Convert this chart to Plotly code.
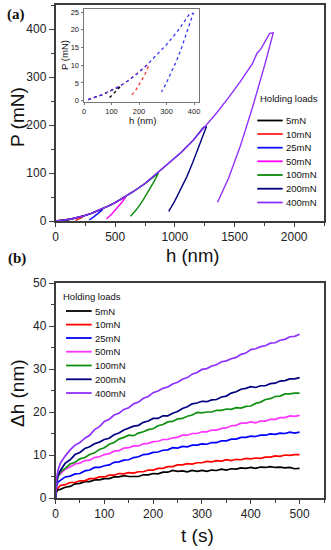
import plotly.graph_objects as go

W, H = 331, 550

# ---------------- data: (a) load-depth curves ----------------
labels = ["5mN", "10mN", "25mN", "50mN", "100mN", "200mN", "400mN"]
colors_a = ["#000000", "#ff2020", "#1010ff", "#ff00ff", "#0a8a0a", "#000080", "#9030ff"]
colors_b = ["#000000", "#ff0000", "#0000ff", "#ff33ff", "#109010", "#000080", "#9030ff"]

h_5 = [15, 40, 60, 80, 100, 115, 128, 133, 120, 110, 100, 92, 86]
P_5 = [0.3, 0.9, 1.5, 2.2, 2.9, 3.5, 4.0, 4.1, 3.0, 2.2, 1.4, 0.8, 0.3]

h_10 = [15, 40, 60, 80, 100, 130, 160, 190, 210, 225, 236, 220, 205, 190, 178, 166]
P_10 = [0.3, 0.9, 1.5, 2.2, 2.9, 4.1, 5.6, 7.4, 8.8, 9.8, 10.0, 7.2, 5.0, 3.2, 2.0, 1.0]

h_25 = [15, 40, 60, 80, 100, 130, 160, 190, 225, 260, 300, 340, 370, 385, 397,
        375, 355, 335, 315, 297, 282]
P_25 = [0.3, 0.9, 1.5, 2.2, 2.9, 4.1, 5.6, 7.4, 9.8, 12.5, 15.8, 19.6, 22.8, 24.6, 24.6,
        19.5, 15.0, 11.0, 7.5, 4.6, 2.5]

h_50 = [0, 50, 100, 130, 160, 200, 225, 300, 385, 450, 500, 575, 588,
        560, 530, 500, 470, 445, 427]
P_50 = [0, 0.8, 2.9, 4.1, 5.6, 8.0, 9.8, 15.8, 24.6, 32.0, 38.5, 49.5, 50.0,
        40.0, 31.0, 22.0, 14.0, 8.3, 4.8]

h_100 = [0, 50, 100, 130, 160, 200, 225, 300, 385, 450, 500, 575, 650, 750, 850, 862,
         830, 780, 730, 680, 650, 629]
P_100 = [0, 0.8, 2.9, 4.1, 5.6, 8.0, 9.8, 15.8, 24.6, 32.0, 38.5, 49.5, 61.0, 78.0, 99.0, 99.5,
         84.0, 62.0, 42.0, 24.4, 15.5, 9.8]

h_200 = [0, 50, 100, 130, 160, 200, 225, 300, 385, 450, 500, 575, 650, 750, 850, 950,
         1050, 1150, 1240, 1265, 1200, 1150, 1100, 1050, 1000, 970, 948]
P_200 = [0, 0.8, 2.9, 4.1, 5.6, 8.0, 9.8, 15.8, 24.6, 32.0, 38.5, 49.5, 61.0, 78.0, 99.0, 119.0,
         142.0, 167.0, 195.0, 197.0, 153.0, 122.0, 92.0, 66.0, 42.0, 29.0, 20.0]

h_400 = [0, 50, 100, 130, 160, 200, 225, 300, 385, 450, 500, 575, 650, 750, 850, 950,
         1050, 1150, 1250, 1350, 1450, 1550, 1650, 1690, 1720, 1795, 1825,
         1750, 1650, 1550, 1450, 1400, 1358]
P_400 = [0, 0.8, 2.9, 4.1, 5.6, 8.0, 9.8, 15.8, 24.6, 32.0, 38.5, 49.5, 61.0, 78.0, 99.0, 119.0,
         142.0, 167.0, 196.0, 225.0, 257.0, 291.0, 328.0, 350.0, 358.0, 391.0, 392.0,
         322.0, 236.0, 157.0, 89.0, 62.0, 39.0]

h_sets = [h_5, h_10, h_25, h_50, h_100, h_200, h_400]
P_sets = [P_5, P_10, P_25, P_50, P_100, P_200, P_400]

# ---------------- data: (b) creep displacement ----------------
t_s = [0, 2, 5, 10, 20, 30, 40, 50, 60, 70, 80, 90, 100, 110, 120, 130, 140, 150, 160,
       170, 180, 190, 200, 210, 220, 230, 240, 250, 260, 270, 280, 290, 300, 310, 320,
       330, 340, 350, 360, 370, 380, 390, 400, 410, 420, 430, 440, 450, 460, 470, 480,
       490, 500]

dh_5 = [0, 1.4, 1.9, 2.0, 2.5, 2.7, 3.3, 3.4, 3.8, 3.8, 4.2, 4.2, 4.5, 4.5, 4.9, 4.9, 5.2,
        5.0, 5.0, 5.0, 5.4, 5.4, 5.7, 5.6, 6.0, 6.0, 6.4, 6.2, 6.3, 6.1, 6.4, 6.2, 6.4, 6.2,
        6.5, 6.4, 6.7, 6.5, 6.8, 6.7, 7.0, 6.9, 7.1, 6.9, 7.2, 7.1, 7.3, 7.1, 7.2, 7.0, 7.1,
        6.8, 6.9]
dh_10 = [0, 2.1, 2.3, 2.9, 3.1, 3.6, 3.6, 4.0, 4.0, 4.5, 4.5, 4.9, 4.9, 5.3, 5.3, 5.7, 5.6,
         5.9, 5.8, 6.1, 6.1, 6.5, 6.5, 6.9, 6.9, 7.3, 7.3, 7.7, 7.7, 8.0, 7.9, 8.2, 8.2, 8.5,
         8.4, 8.7, 8.6, 8.9, 8.7, 9.0, 8.9, 9.2, 9.1, 9.3, 9.2, 9.5, 9.5, 9.8, 9.7, 10.0, 9.9,
         10.1, 10.1]
dh_25 = [0, 2.7, 3.7, 4.1, 4.9, 5.1, 5.6, 5.7, 6.3, 6.5, 7.1, 7.1, 7.5, 7.7, 8.3, 8.4, 8.8,
         8.9, 9.4, 9.6, 10.1, 10.2, 10.6, 10.7, 11.1, 11.2, 11.7, 11.6, 12.0, 11.9, 12.3, 12.3,
         12.6, 12.5, 12.9, 12.9, 13.3, 13.3, 13.7, 13.7, 14.1, 14.1, 14.4, 14.3, 14.6, 14.6,
         14.9, 14.8, 15.1, 15.0, 15.3, 15.1, 15.3]
dh_50 = [0, 3.4, 5.1, 5.7, 6.7, 7.2, 7.9, 8.1, 8.7, 8.8, 9.4, 9.6, 10.1, 10.3, 10.9, 11.0,
         11.6, 11.7, 12.1, 12.1, 12.6, 12.7, 13.1, 13.2, 13.6, 13.6, 14.0, 14.1, 14.6, 14.6,
         15.0, 15.0, 15.4, 15.4, 15.8, 15.8, 16.2, 16.3, 16.8, 16.9, 17.4, 17.4, 17.7, 17.5,
         17.9, 17.9, 18.3, 18.3, 18.7, 18.7, 19.1, 19.0, 19.2]
dh_100 = [0, 3.3, 4.9, 6.1, 6.9, 7.9, 8.3, 9.1, 9.4, 10.1, 10.5, 11.3, 11.7, 12.5, 12.9,
          13.7, 14.1, 14.6, 14.5, 15.1, 15.4, 15.9, 16.1, 16.8, 17.1, 17.7, 17.8, 18.4, 18.5,
          19.0, 19.3, 19.9, 19.8, 20.0, 20.0, 20.4, 20.4, 20.7, 20.6, 21.0, 20.9, 21.3, 21.4,
          22.0, 22.3, 22.9, 23.1, 23.6, 23.7, 24.2, 24.2, 24.4, 24.4]
dh_200 = [0, 3.4, 5.3, 6.4, 8.1, 8.9, 10.1, 10.6, 11.5, 11.9, 12.6, 13.0, 13.6, 13.9, 14.7,
          15.1, 15.8, 16.2, 16.7, 16.9, 17.6, 17.9, 18.5, 18.5, 19.1, 19.1, 19.7, 20.1, 20.8,
          21.2, 21.9, 22.1, 22.5, 22.4, 22.8, 22.9, 23.5, 23.7, 24.4, 24.7, 25.3, 25.5, 25.9,
          25.7, 26.1, 26.1, 26.6, 26.7, 27.2, 27.3, 27.7, 27.7, 28.0]
dh_400 = [0, 4.2, 6.4, 8.1, 9.8, 11.2, 12.3, 12.9, 13.9, 14.6, 15.9, 16.6, 17.8, 18.3, 19.3,
          19.7, 20.6, 21.0, 21.9, 22.3, 23.2, 23.6, 24.5, 24.9, 25.5, 25.8, 26.5, 26.9, 27.6,
          28.0, 28.8, 29.2, 29.9, 30.1, 30.7, 31.0, 31.7, 31.9, 32.4, 32.7, 33.4, 33.7, 34.5,
          34.7, 35.2, 35.4, 36.0, 36.1, 36.7, 36.9, 37.5, 37.6, 38.1]
dh_sets = [dh_5, dh_10, dh_25, dh_50, dh_100, dh_200, dh_400]

# ticks
ha_ticks = [0, 500, 1000, 1500, 2000]
Pa_ticks = [0, 100, 200, 300, 400]
hi_ticks = [0, 100, 200, 300, 400]
Pi_ticks = [0, 5, 10, 15, 20, 25]
t_ticks = [0, 100, 200, 300, 400, 500]
dh_ticks = [0, 10, 20, 30, 40, 50]


def px(x):
    return x / W


def py(y):
    return 1 - y / H


FONT = "Liberation Sans"
AX = "#3c3c3c"

fig = go.Figure()

# (a) main
for lab, col, hh, pp in zip(labels, colors_a, h_sets, P_sets):
    fig.add_trace(go.Scatter(x=hh, y=pp, mode="lines", line=dict(color=col, width=1.4),
                             xaxis="x", yaxis="y", showlegend=False, name=lab))
# (a) inset: first three loads
for lab, col, hh, pp in zip(labels[:3], ["#000000", "#ff3333", "#3333ff"], h_sets[:3], P_sets[:3]):
    fig.add_trace(go.Scatter(x=hh, y=pp, mode="lines", line=dict(color=col, width=1.3, dash="dot"),
                             xaxis="x3", yaxis="y3", showlegend=False, name=lab))
# (b)
for lab, col, dd in zip(labels, colors_b, dh_sets):
    fig.add_trace(go.Scatter(x=t_s, y=dd, mode="lines", line=dict(color=col, width=1.7),
                             xaxis="x2", yaxis="y2", showlegend=False, name=lab))


def axis(dom, anchor, rng, tv, minor_dt, size=12, lw=1.5, tl=5, mtl=3, col=AX):
    return dict(domain=dom, anchor=anchor, range=rng, tickvals=tv, showline=True, mirror=True,
                linecolor=col, linewidth=lw, ticks="outside", ticklen=tl, tickwidth=1,
                tickcolor=col, showgrid=False, zeroline=False,
                minor=dict(ticks="outside", ticklen=mtl, dtick=minor_dt, tick0=0, tickcolor=col,
                           showgrid=False),
                tickfont=dict(family=FONT, size=size, color="#222222"))


xa_dom = [px(55.5), px(324)]
fig.update_layout(
    width=W, height=H, margin=dict(l=0, r=0, t=0, b=0),
    paper_bgcolor="white", plot_bgcolor="white", template="none",
    xaxis=axis(xa_dom, "y", [0, 2250], ha_ticks, 250, tl=4),
    yaxis=axis([py(221), py(5)], "x", [0, 450], Pa_ticks, 50),
    xaxis2=axis(xa_dom, "y2", [0, 550], t_ticks, 50, tl=4),
    yaxis2=axis([py(498), py(283)], "x2", [0, 50], dh_ticks, 5),
    xaxis3=axis([px(84), px(199)], "y3", [0, 418], hi_ticks, 50, size=7.5, lw=1, tl=2, mtl=0,
                col="#777777"),
    yaxis3=axis([py(102), py(8.5)], "x3", [-0.37, 26], Pi_ticks, 5, size=7.5, lw=1, tl=2.5, mtl=0,
                col="#777777"),
)

ann = []


def text(x, y, s, size, angle=0, family=FONT, xanchor="center", color="#111111"):
    ann.append(dict(x=px(x), y=py(y), xref="paper", yref="paper", text=s, showarrow=False,
                    textangle=angle, xanchor=xanchor, yanchor="middle",
                    font=dict(family=family, size=size, color=color)))


text(17, 117, "P (mN)", 19, -90)
text(192, 255, "h (nm)", 18.5)
text(17, 393, "Δh (nm)", 19, -90)
text(197, 535, "t (s)", 19)
text(16, 15, "<b>(a)</b>", 15, family="Liberation Serif")
text(17, 258, "<b>(b)</b>", 15, family="Liberation Serif")
text(65, 55, "P (mN)", 9.5, -90)
text(142, 121, "h (nm)", 9.5)

shapes = []
# legend (a)
text(257.5, 99, "Holding loads", 9.5, xanchor="left")
ya = [120.5, 134, 147.7, 161.3, 175, 188.7, 202.5]
for lab, col, y in zip(labels, colors_a, ya):
    shapes.append(dict(type="line", xref="paper", yref="paper", x0=px(257.3), x1=px(282.7),
                       y0=py(y), y1=py(y), line=dict(color=col, width=1.8)))
    text(284.3, y, lab, 9.5, xanchor="left")
# legend (b)
text(61, 296.7, "Holding loads", 9.5, xanchor="left")
yb = [311, 324.6, 338, 351.7, 365.5, 379.3, 393]
for lab, col, y in zip(labels, colors_b, yb):
    shapes.append(dict(type="line", xref="paper", yref="paper", x0=px(66), x1=px(91.7),
                       y0=py(y), y1=py(y), line=dict(color=col, width=1.8)))
    text(93.3, y, lab, 9.5, xanchor="left")

fig.update_layout(annotations=ann, shapes=shapes)
fig.write_html("out.html", config={"displayModeBar": False},
               post_script="document.body.style.margin='0';document.body.style.overflow='hidden';")
